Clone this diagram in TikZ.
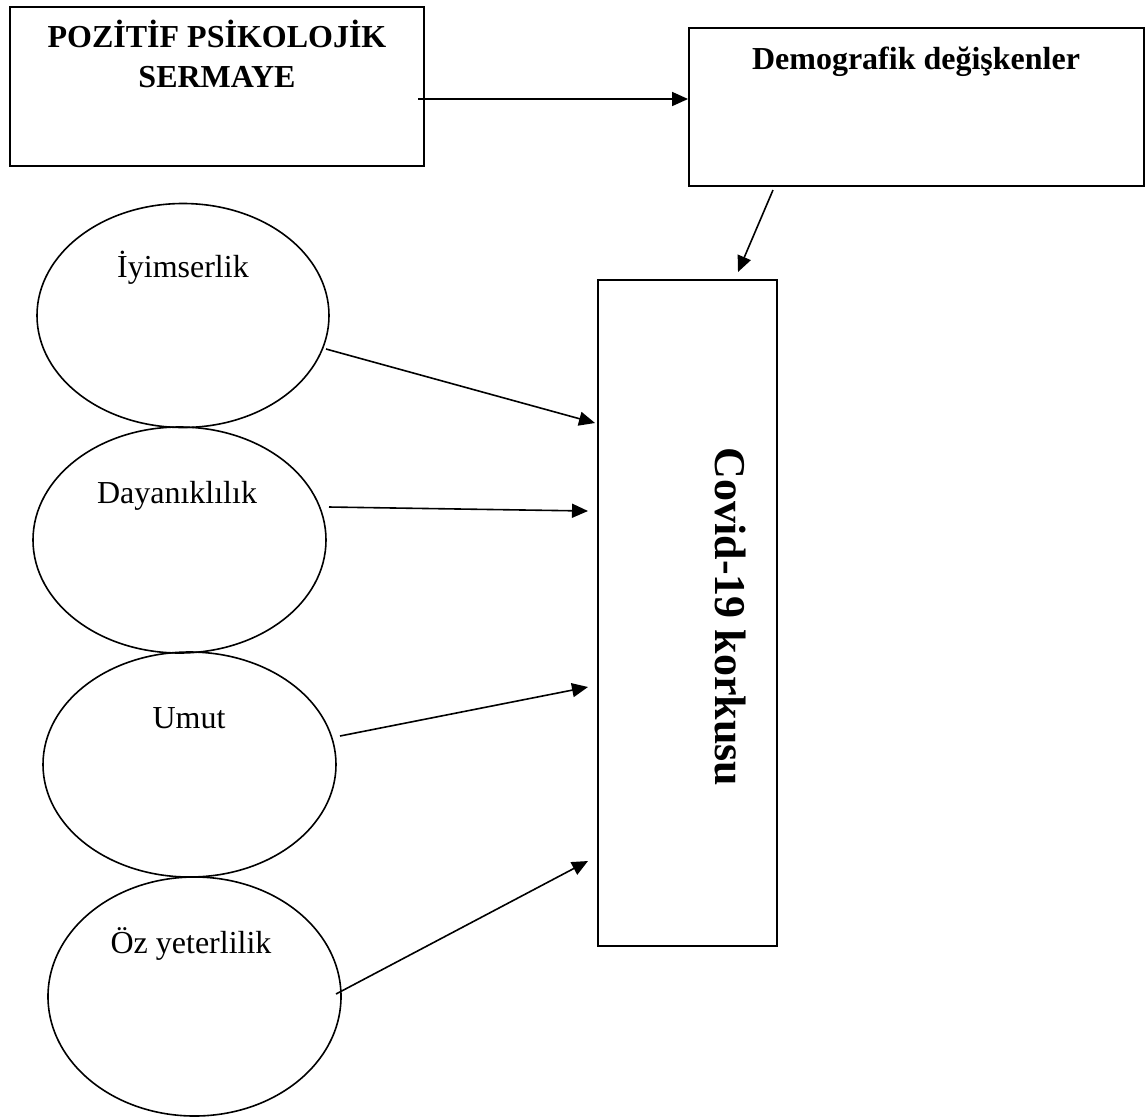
\documentclass[tikz,border=0pt]{standalone}
\usepackage{fontspec}
\setmainfont{Liberation Serif}
\usetikzlibrary{shapes.geometric,arrows.meta}
\begin{document}
\begin{tikzpicture}[x=1pt,y=-1pt,
  box/.style={draw,line width=1.9pt,inner sep=0pt,minimum width=#1},
  oval/.style={draw,ellipse,line width=1.6pt,inner sep=0pt},
  title/.style={font=\fontsize{32}{40}\selectfont\bfseries,anchor=base,inner sep=0pt},
  lab/.style={font=\fontsize{32}{40}\selectfont,anchor=base,inner sep=0pt},
  arr/.style={line width=1.6pt,-{Triangle[length=16pt,width=14pt]}}]
\useasboundingbox (0,0) rectangle (1147,1117);
% boxes
\node[box=414pt,minimum height=159pt] (b1) at (217,86.5) {};
\node[box=455pt,minimum height=158pt] (b2) at (916.5,107) {};
\node[box=179pt,minimum height=666pt] (b3) at (687.5,613) {};
\node[title] (t1a) at (217,47) {POZİTİF PSİKOLOJİK};
\node[title] (t1b) at (217,87) {SERMAYE};
\node[title] (t2) at (916,69) {Demografik değişkenler};
\node[font=\fontsize{44}{50}\selectfont\bfseries,rotate=-90,inner sep=0pt] (t3) at (730,617) {Covid-19 korkusu};
% ellipses
\node[oval,minimum width=292pt,minimum height=224pt] (e1) at (183,315.5) {};
\node[oval,minimum width=293pt,minimum height=226pt] (e2) at (179.5,540) {};
\node[oval,minimum width=293pt,minimum height=225pt] (e3) at (189.5,764.5) {};
\node[oval,minimum width=293pt,minimum height=239pt] (e4) at (194.5,996.5) {};
\node[lab] (l1) at (183,277) {İyimserlik};
\node[lab] (l2) at (177,503) {Dayanıklılık};
\node[lab] (l3) at (189,728) {Umut};
\node[lab] (l4) at (191,953) {Öz yeterlilik};
% connector ends
\coordinate (s0) at (418,99);
\coordinate (s1) at (773,190);
\coordinate (k1) at (738,272);
\coordinate (a1) at (326,349);
\coordinate (a2) at (329,507);
\coordinate (a3) at (340,736);
\coordinate (a4) at (336,994);
\coordinate (p1) at (595,423);
\coordinate (p2) at (588,511);
\coordinate (p3) at (588,687);
\coordinate (p4) at (588,861);
\draw[arr] (s0) -- (s0 -| b2.west);
\draw[arr] (s1) -- (k1);
\draw[arr] (a1) -- (p1);
\draw[arr] (a2) -- (p2);
\draw[arr] (a3) -- (p3);
\draw[arr] (a4) -- (p4);
\end{tikzpicture}
\end{document}
